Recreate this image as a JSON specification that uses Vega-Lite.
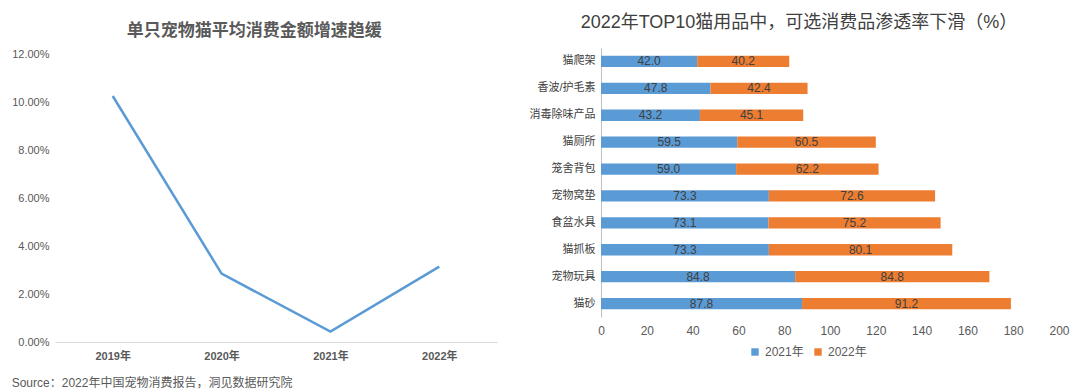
{
  "$schema": "https://vega.github.io/schema/vega-lite/v6.json",
  "background": "white",
  "padding": {"left": 11, "top": 14, "right": 5, "bottom": 5},
  "config": {
    "font": "Liberation Sans, Noto Sans CJK SC",
    "view": {"stroke": null},
    "axis": {"labelColor": "#595959", "labelFont": "Liberation Sans, Noto Sans CJK SC", "ticks": false, "grid": false, "title": null, "labelFlush": false}
  },
  "title": {
    "text": "Source：2022年中国宠物消费报告，洞见数据研究院",
    "orient": "bottom", "anchor": "start", "frame": "bounds",
    "fontSize": 12, "fontWeight": "normal", "color": "#595959",
    "font": "Liberation Sans, Noto Sans CJK SC", "offset": 17
  },
  "spacing": 32,
  "hconcat": [
    {
      "width": 442, "height": 294,
      "title": {"text": "单只宠物猫平均消费金额增速趋缓", "fontSize": 17, "fontWeight": "bold", "color": "#595959", "anchor": "middle", "frame": "bounds", "offset": 8},
      "data": {"values": [
        {"year": "2019年", "rate": 0.1025},
        {"year": "2020年", "rate": 0.0285},
        {"year": "2021年", "rate": 0.0043},
        {"year": "2022年", "rate": 0.0314}
      ]},
      "mark": {"type": "line", "color": "#5B9BD5", "strokeWidth": 2.5},
      "encoding": {
        "x": {"field": "year", "type": "ordinal", "scale": {"type": "point", "padding": 0.53},
              "axis": {"labelAngle": 0, "domainColor": "#d9d9d9", "labelFontSize": 11, "labelFontWeight": "bold", "labelPadding": 8}},
        "y": {"field": "rate", "type": "quantitative", "scale": {"domain": [0, 0.1225], "nice": false},
              "axis": {"values": [0, 0.02, 0.04, 0.06, 0.08, 0.1, 0.12], "format": ".2%", "domain": false, "labelFontSize": 11, "labelPadding": 6}}
      }
    },
    {
      "width": 458, "height": 269,
      "title": {"text": "2022年TOP10猫用品中，可选消费品渗透率下滑（%）", "fontSize": 18, "fontWeight": "normal", "color": "#404040", "anchor": "middle", "frame": "bounds", "offset": 16},
      "data": {"values": [
        {"item": "猫爬架", "year": "2021年", "v": 42.0},
        {"item": "猫爬架", "year": "2022年", "v": 40.2},
        {"item": "香波/护毛素", "year": "2021年", "v": 47.8},
        {"item": "香波/护毛素", "year": "2022年", "v": 42.4},
        {"item": "消毒除味产品", "year": "2021年", "v": 43.2},
        {"item": "消毒除味产品", "year": "2022年", "v": 45.1},
        {"item": "猫厕所", "year": "2021年", "v": 59.5},
        {"item": "猫厕所", "year": "2022年", "v": 60.5},
        {"item": "笼舍背包", "year": "2021年", "v": 59.0},
        {"item": "笼舍背包", "year": "2022年", "v": 62.2},
        {"item": "宠物窝垫", "year": "2021年", "v": 73.3},
        {"item": "宠物窝垫", "year": "2022年", "v": 72.6},
        {"item": "食盆水具", "year": "2021年", "v": 73.1},
        {"item": "食盆水具", "year": "2022年", "v": 75.2},
        {"item": "猫抓板", "year": "2021年", "v": 73.3},
        {"item": "猫抓板", "year": "2022年", "v": 80.1},
        {"item": "宠物玩具", "year": "2021年", "v": 84.8},
        {"item": "宠物玩具", "year": "2022年", "v": 84.8},
        {"item": "猫砂", "year": "2021年", "v": 87.8},
        {"item": "猫砂", "year": "2022年", "v": 91.2}
      ]},
      "transform": [
        {"stack": "v", "groupby": ["item"], "sort": [{"field": "year", "order": "ascending"}], "as": ["v0", "v1"]},
        {"calculate": "(datum.v0 + datum.v1) / 2", "as": "mid"}
      ],
      "encoding": {
        "y": {"field": "item", "type": "nominal",
              "sort": ["猫爬架", "香波/护毛素", "消毒除味产品", "猫厕所", "笼舍背包", "宠物窝垫", "食盆水具", "猫抓板", "宠物玩具", "猫砂"],
              "scale": {"paddingInner": 0.58, "paddingOuter": 0.29},
              "axis": {"domainColor": "#bfbfbf", "labelFontSize": 11, "labelPadding": 6, "labelColor": "#404040"}}
      },
      "layer": [
        {
          "mark": {"type": "bar"},
          "encoding": {
            "x": {"field": "v0", "type": "quantitative", "scale": {"domain": [0, 200], "nice": false},
                  "axis": {"values": [0, 20, 40, 60, 80, 100, 120, 140, 160, 180, 200], "domain": false, "labelFontSize": 12, "labelPadding": 8}},
            "x2": {"field": "v1"},
            "color": {"field": "year", "type": "nominal",
                      "scale": {"domain": ["2021年", "2022年"], "range": ["#5B9BD5", "#ED7D31"]},
                      "legend": {"title": null, "orient": "none", "direction": "horizontal", "legendX": 694, "legendY": 298,
                                 "symbolType": "square", "symbolSize": 55, "symbolStrokeWidth": 0, "labelFontSize": 12, "labelColor": "#595959", "columnPadding": 8, "labelOffset": 4}}
          }
        },
        {
          "mark": {"type": "text", "color": "#404040", "fontSize": 12, "align": "center", "baseline": "middle"},
          "encoding": {
            "x": {"field": "mid", "type": "quantitative"},
            "text": {"field": "v", "type": "quantitative", "format": ".1f"}
          }
        }
      ]
    }
  ]
}
